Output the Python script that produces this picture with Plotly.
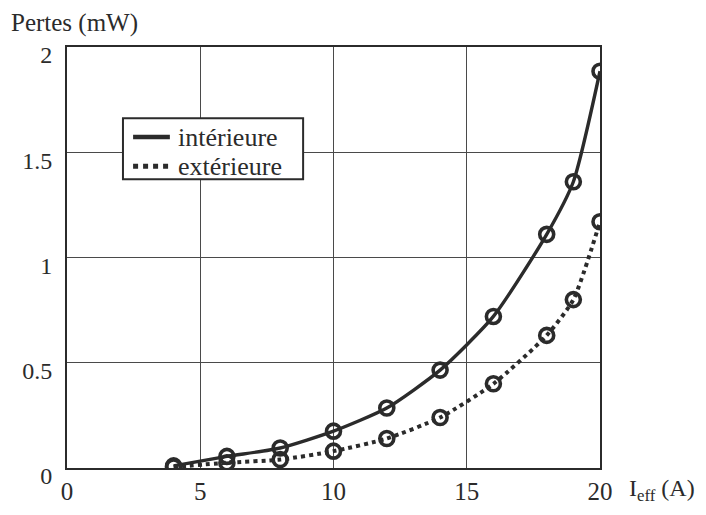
import plotly.graph_objects as go

courant = [4, 6, 8, 10, 12, 14, 16, 18, 19, 20]
pertes_int = [0.01, 0.055, 0.095, 0.175, 0.285, 0.465, 0.72, 1.11, 1.36, 1.885]
pertes_ext = [0.005, 0.025, 0.04, 0.08, 0.14, 0.24, 0.40, 0.63, 0.80, 1.17]
x_ticks = [0, 5, 10, 15, 20]
y_ticks = [0, 0.5, 1, 1.5, 2]
y_tick_labels = ["0", "0.5", "1", "1.5", "2"]
legend_names = ["intérieure", "extérieure"]

ink = "#2b2b2b"
serif = "Liberation Serif, Times New Roman, serif"

fig = go.Figure()
mk = dict(symbol="circle-open", size=14, color=ink, line=dict(width=3.6, color=ink))
fig.add_trace(go.Scatter(
    x=courant, y=pertes_int, mode="lines+markers", name=legend_names[0], showlegend=False,
    line=dict(color=ink, width=3.4, shape="spline", smoothing=0.6), marker=mk,
))
fig.add_trace(go.Scatter(
    x=courant, y=pertes_ext, mode="lines+markers", name=legend_names[1], showlegend=False,
    line=dict(color=ink, width=4, dash="dot", shape="spline", smoothing=0.6), marker=mk,
))

# hand-built legend box (line samples without markers, as in the reference)
shapes = [
    dict(type="rect", xref="paper", yref="paper", x0=0.105, x1=0.443, y0=0.686, y1=0.831,
         line=dict(color=ink, width=2), fillcolor="white", layer="above"),
    dict(type="line", xref="paper", yref="paper", x0=0.124, x1=0.193, y0=0.786, y1=0.786,
         line=dict(color=ink, width=4.5), layer="above"),
    dict(type="line", xref="paper", yref="paper", x0=0.124, x1=0.193, y0=0.717, y1=0.717,
         line=dict(color=ink, width=5, dash="dot"), layer="above"),
]
annotations = [
    dict(text=legend_names[0], xref="paper", yref="paper", x=0.205, y=0.786,
         xanchor="left", yanchor="middle", showarrow=False, font=dict(size=26)),
    dict(text=legend_names[1], xref="paper", yref="paper", x=0.205, y=0.717,
         xanchor="left", yanchor="middle", showarrow=False, font=dict(size=26)),
    dict(text="Pertes (mW)", xref="paper", yref="paper", x=-0.108, y=1.058,
         xanchor="left", yanchor="middle", showarrow=False, font=dict(size=25)),
    dict(text="I<sub>eff</sub> (A)", xref="paper", yref="paper", x=1.182, y=-0.052,
         xanchor="right", yanchor="middle", showarrow=False, font=dict(size=24)),
]

fig.update_layout(
    width=698, height=499,
    margin=dict(l=59, r=106, t=39, b=39),
    paper_bgcolor="white", plot_bgcolor="white",
    font=dict(family=serif, size=24, color=ink),
    showlegend=False,
    xaxis=dict(
        range=[0, 20], tickvals=x_ticks, showgrid=True, gridcolor="#4a4a4a", gridwidth=1.3,
        showline=True, linecolor=ink, linewidth=2, mirror=True, zeroline=False,
        ticks="", ticklen=0, tickfont=dict(size=25), ticklabelstandoff=0, automargin=False,
    ),
    yaxis=dict(
        range=[0, 2], tickvals=y_ticks, ticktext=y_tick_labels, showgrid=True,
        gridcolor="#4a4a4a", gridwidth=1.3,
        showline=True, linecolor=ink, linewidth=2, mirror=True, zeroline=False,
        ticks="", ticklen=0, tickfont=dict(size=24), ticklabelstandoff=8,
        ticklabelshift=8, automargin=False,
    ),
    shapes=shapes,
    annotations=annotations,
)

fig.write_html("out.html")
